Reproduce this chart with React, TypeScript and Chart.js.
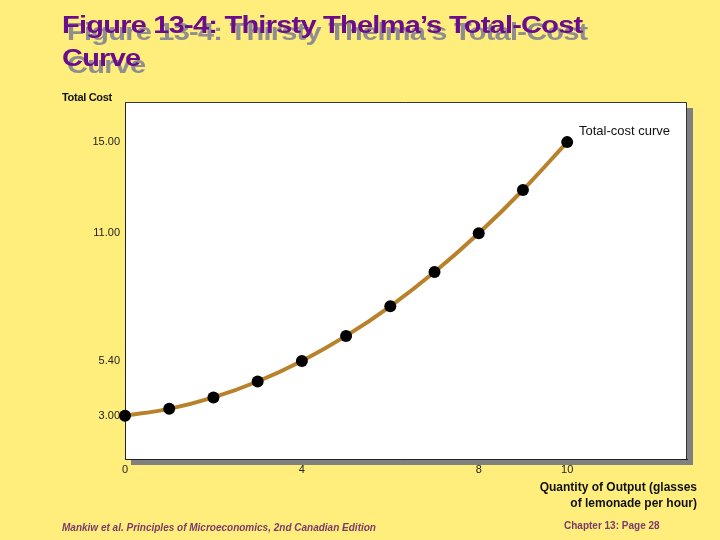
import React, { useEffect, useRef } from "react";
import { Chart, registerables } from "chart.js";

Chart.register(...registerables);

const quantity = [0, 1, 2, 3, 4, 5, 6, 7, 8, 9, 10];
const totalCost = [3.0, 3.3, 3.8, 4.5, 5.4, 6.5, 7.8, 9.3, 11.0, 12.9, 15.0];
const yTickValues = [3.0, 5.4, 11.0, 15.0];
const xTickValues = [0, 4, 8, 10];

const FONT = "'Liberation Sans', Arial, Helvetica, sans-serif";

const boxPlugin = {
  id: "boxPlugin",
  beforeDraw(chart: any) {
    const { ctx, chartArea } = chart;
    const { left, top, right, bottom } = chartArea;
    ctx.save();
    ctx.fillStyle = "#808080";
    ctx.fillRect(left + 6, top + 6, right - left, bottom - top);
    ctx.fillStyle = "#ffffff";
    ctx.fillRect(left, top, right - left, bottom - top);
    ctx.restore();
  },
  afterDraw(chart: any) {
    const { ctx, chartArea } = chart;
    const { left, top, right, bottom } = chartArea;
    ctx.save();
    ctx.strokeStyle = "#333333";
    ctx.lineWidth = 1;
    ctx.beginPath();
    ctx.moveTo(left, top + 0.5);
    ctx.lineTo(right - 0.5, top + 0.5);
    ctx.lineTo(right - 0.5, bottom);
    ctx.stroke();
    ctx.restore();
  },
};

export default function App() {
  const ref = useRef<HTMLCanvasElement | null>(null);

  useEffect(() => {
    document.body.style.margin = "0";
    if (!ref.current) return;
    const chart = new Chart(ref.current, {
      type: "line",
      data: {
        datasets: [
          {
            data: quantity.map((q, i) => ({ x: q, y: totalCost[i] })),
            borderColor: "#B8822B",
            borderWidth: 4,
            cubicInterpolationMode: "monotone",
            pointRadius: 6,
            pointBackgroundColor: "#000000",
            pointBorderColor: "#000000",
            pointBorderWidth: 0,
            clip: false as any,
            fill: false,
          },
        ],
      },
      options: {
        animation: false,
        responsive: false,
        devicePixelRatio: 1,
        layout: { padding: { left: 0, top: 102, right: 33, bottom: 0 } },
        plugins: { legend: { display: false }, tooltip: { enabled: false } },
        scales: {
          x: {
            type: "linear",
            min: 0,
            max: 12.71,
            grid: { display: false, drawTicks: false },
            border: { display: true, color: "#222222", width: 1 },
            afterBuildTicks: (s: any) => {
              s.ticks = xTickValues.map((v) => ({ value: v }));
            },
            afterFit: (s: any) => {
              s.height = 81;
            },
            ticks: {
              autoSkip: false,
              maxRotation: 0,
              padding: 4,
              color: "#222222",
              font: { family: FONT, size: 11 },
              callback: (v: any) => String(v),
            },
          },
          y: {
            type: "linear",
            min: 1.1,
            max: 16.76,
            grid: { display: false, drawTicks: false },
            border: { display: true, color: "#222222", width: 1 },
            afterBuildTicks: (s: any) => {
              s.ticks = yTickValues.map((v) => ({ value: v }));
            },
            afterFit: (s: any) => {
              s.width = 125;
            },
            ticks: {
              autoSkip: false,
              padding: 5,
              color: "#222222",
              font: { family: FONT, size: 11 },
              callback: (v: any) => Number(v).toFixed(2),
            },
          },
        },
      },
      plugins: [boxPlugin],
    });
    return () => chart.destroy();
  }, []);

  return (
    <div
      style={{
        position: "relative",
        width: 720,
        height: 540,
        background: "#FFEE7C",
        overflow: "hidden",
        fontFamily: FONT,
      }}
    >
      <canvas ref={ref} width={720} height={540} style={{ position: "absolute", left: 0, top: 0 }} />
      <div
        style={{
          position: "absolute",
          left: 62,
          top: 9,
          whiteSpace: "nowrap",
          fontSize: 23,
          lineHeight: "33px",
          fontWeight: "bold",
          letterSpacing: -0.6,
          color: "#6A0C8C",
          textShadow: "4px 7px 0 #8E8E8E",
          transform: "scaleX(1.26)",
          transformOrigin: "0 0",
        }}
      >
        Figure 13-4: Thirsty Thelma’s Total-Cost
        <br />
        Curve
      </div>
      <div
        style={{
          position: "absolute",
          left: 62,
          top: 91,
          fontSize: 11,
          fontWeight: "bold",
          color: "#111111",
          letterSpacing: -0.3,
        }}
      >
        Total Cost
      </div>
      <div
        style={{
          position: "absolute",
          left: 579,
          top: 123,
          fontSize: 13,
          color: "#111111",
        }}
      >
        Total-cost curve
      </div>
      <div
        style={{
          position: "absolute",
          right: 23,
          top: 479,
          fontSize: 12,
          lineHeight: "16px",
          fontWeight: "bold",
          color: "#111111",
          textAlign: "right",
        }}
      >
        Quantity of Output (glasses
        <br />
        of lemonade per hour)
      </div>
      <div
        style={{
          position: "absolute",
          left: 62,
          top: 522,
          fontSize: 10,
          fontWeight: "bold",
          fontStyle: "italic",
          color: "#7A3A6C",
        }}
      >
        Mankiw et al. Principles of Microeconomics, 2nd Canadian Edition
      </div>
      <div
        style={{
          position: "absolute",
          left: 564,
          top: 520,
          fontSize: 10,
          fontWeight: "bold",
          color: "#7A3A6C",
        }}
      >
        Chapter 13: Page 28
      </div>
    </div>
  );
}
